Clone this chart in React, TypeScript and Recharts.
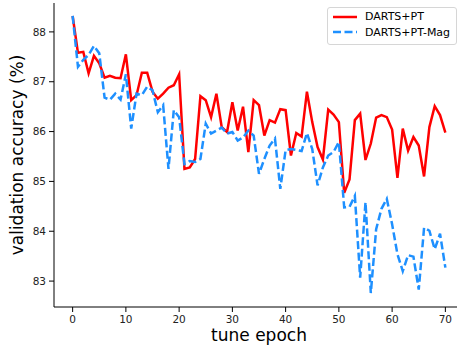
import React from 'react';
import { LineChart, Line, XAxis, YAxis, Legend } from 'recharts';

const epochs = [
    0, 1, 2, 3, 4, 5, 6, 7, 8, 9, 10, 11, 12, 13, 14, 15, 16, 17, 18, 19, 20,
    21, 22, 23, 24, 25, 26, 27, 28, 29, 30, 31, 32, 33, 34, 35, 36, 37, 38, 39, 40,
    41, 42, 43, 44, 45, 46, 47, 48, 49, 50, 51, 52, 53, 54, 55, 56, 57, 58, 59, 60,
    61, 62, 63, 64, 65, 66, 67, 68, 69, 70,
];

const ptAcc = [
    88.32, 87.58, 87.6, 87.17, 87.52, 87.37, 87.08, 87.12, 87.08, 87.07, 87.55,
    86.63, 86.73, 87.18, 87.18, 86.8, 86.66, 86.76, 86.88, 86.93, 87.15,
    85.25, 85.28, 85.45, 86.71, 86.63, 86.29, 86.76, 86.09, 85.99, 86.59,
    86.02, 86.5, 85.59, 86.63, 86.53, 85.92, 86.23, 86.18, 86.45, 86.43,
    85.52, 85.97, 85.9, 86.8, 86.19, 85.69, 85.44, 86.44, 86.34, 86.19,
    84.77, 85.04, 86.23, 86.36, 85.43, 85.76, 86.28, 86.33, 86.29, 86.04,
    85.07, 86.06, 85.62, 85.89, 85.72, 85.1, 86.09, 86.51, 86.33, 85.98,
];

const magAcc = [
    88.32, 87.3, 87.44, 87.54, 87.72, 87.57, 86.68, 86.64, 86.76, 86.64, 87.15,
    86.06, 86.76, 86.73, 86.9, 86.83, 86.39, 86.53, 85.25, 86.43, 86.29,
    85.35, 85.41, 85.39, 85.45, 86.16, 85.96, 86.02, 86.08, 85.96, 85.99,
    85.82, 85.88, 86.02, 85.92, 85.15, 85.45, 85.72, 85.86, 84.85, 85.63,
    85.65, 85.63, 85.61, 85.97, 85.65, 84.92, 85.28, 85.52, 85.59, 85.79,
    84.48, 84.49, 84.71, 83.07, 84.58, 82.76, 84.04, 84.45, 84.65, 84.14,
    83.54, 83.2, 83.52, 83.49, 82.83, 84.07, 84.01, 83.64, 83.95, 83.27,
];

const xTicks = [0, 10, 20, 30, 40, 50, 60, 70];
const yTicks = [83, 84, 85, 86, 87, 88];
const seriesNames = ['DARTS+PT', 'DARTS+PT-Mag'];

const data = epochs.map((e, i) => ({ epoch: e, pt: ptAcc[i], mag: magAcc[i] }));

const FONT = '"DejaVu Sans", sans-serif';
const RED = '#ff0000';
const BLUE = '#1e90ff';
const DASH = '8 3.5';

const legendItems = [
    { name: seriesNames[0], color: RED, dash: undefined },
    { name: seriesNames[1], color: BLUE, dash: DASH },
];

const LegendBox = () => (
    <div
        style={{
            border: '1px solid #d6d6d6',
            borderRadius: 3,
            background: 'rgba(255,255,255,0.8)',
            padding: '1px 4px 4px 4px',
            fontFamily: FONT,
            fontSize: 11,
            color: '#000',
            width: 130,
            boxSizing: 'border-box',
        }}
    >
        {legendItems.map((it) => (
            <div key={it.name} style={{ display: 'flex', alignItems: 'center', height: 15.5 }}>
                <svg width={26} height={6} style={{ display: 'block' }}>
                    <line x1={1} y1={3} x2={25} y2={3} stroke={it.color} strokeWidth={2.5} strokeDasharray={it.dash} />
                </svg>
                <span style={{ marginLeft: 7, lineHeight: '15px' }}>{it.name}</span>
            </div>
        ))}
    </div>
);

const XLabel = ({ viewBox }: any) => (
    <text x={viewBox.x + viewBox.width / 2} y={341} textAnchor="middle" fontSize={17} fontFamily={FONT} fill="#000">
        tune epoch
    </text>
);

const YLabel = ({ viewBox }: any) => {
    const cy = viewBox.y + viewBox.height / 2;
    return (
        <text x={23} y={cy} transform={`rotate(-90, 23, ${cy})`} textAnchor="middle" fontSize={17} fontFamily={FONT} fill="#000">
            validation accuracy (%)
        </text>
    );
};

const tickStyle = { fill: '#222', fontSize: 10.5, fontFamily: FONT };

export default function App() {
    return (
        <div style={{ position: 'fixed', left: 0, top: 0, width: 457, height: 350, overflow: 'hidden', background: '#fff' }}>
            <LineChart width={470} height={350} data={data} margin={{ top: 3, right: 6, left: 0, bottom: 0 }}>
                <XAxis
                    dataKey="epoch"
                    type="number"
                    domain={[-3.5, 73.5]}
                    ticks={xTicks}
                    allowDataOverflow
                    height={43}
                    tickSize={5}
                    tickMargin={4}
                    axisLine={{ stroke: '#000', strokeWidth: 1 }}
                    tickLine={{ stroke: '#000', strokeWidth: 1 }}
                    tick={tickStyle}
                    label={<XLabel />}
                />
                <XAxis
                    xAxisId="top"
                    orientation="top"
                    dataKey="epoch"
                    type="number"
                    domain={[-3.5, 73.5]}
                    height={0}
                    tick={false}
                    tickLine={false}
                    axisLine={{ stroke: '#000', strokeWidth: 1 }}
                />
                <YAxis
                    type="number"
                    domain={[82.48, 88.58]}
                    ticks={yTicks}
                    allowDataOverflow
                    width={54}
                    tickSize={5}
                    tickMargin={3}
                    axisLine={{ stroke: '#000', strokeWidth: 1 }}
                    tickLine={{ stroke: '#000', strokeWidth: 1 }}
                    tick={tickStyle}
                    label={<YLabel />}
                />
                <Legend
                    layout="vertical"
                    align="center"
                    verticalAlign="middle"
                    content={<LegendBox />}
                    wrapperStyle={{ left: 327, top: 7, width: 130 }}
                />
                <Line
                    type="linear"
                    dataKey="pt"
                    name={seriesNames[0]}
                    stroke={RED}
                    strokeWidth={2.5}
                    dot={false}
                    isAnimationActive={false}
                />
                <Line
                    type="linear"
                    dataKey="mag"
                    name={seriesNames[1]}
                    stroke={BLUE}
                    strokeWidth={2.5}
                    strokeDasharray={DASH}
                    dot={false}
                    isAnimationActive={false}
                />
            </LineChart>
        </div>
    );
}
